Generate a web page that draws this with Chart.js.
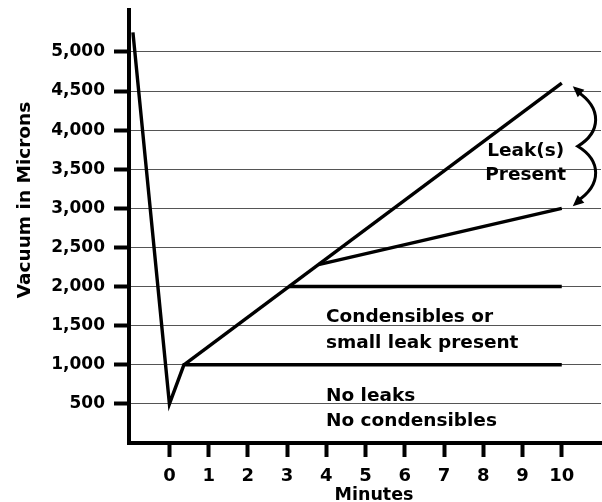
<!DOCTYPE html>
<html><head><meta charset="utf-8">
<script src="https://cdn.jsdelivr.net/npm/chart.js@4/dist/chart.umd.min.js"></script>
<style>html,body{margin:0;padding:0;background:#fff}</style>
</head><body>
<canvas id="c" width="602" height="502" style="display:block;width:602px;height:502px"></canvas>
<script>
// ---- data ----
const xTickValues = [0, 1, 2, 3, 4, 5, 6, 7, 8, 9, 10];
const yTickValues = [500, 1000, 1500, 2000, 2500, 3000, 3500, 4000, 4500, 5000];
const pumpDownX = [-0.93, 0, 0.37, 10];
const pumpDownY = [5250, 500, 1000, 1000];
const leakX = [0.37, 10];
const leakY = [1000, 4600];
const condensX = [3.04, 10];
const condensY = [2000, 2000];
const smallLeakX = [3.8, 10];
const smallLeakY = [2280, 3000];
const xTitle = 'Minutes';
const yTitle = 'Vacuum in Microns';
const notes = [
  {text: 'Condensibles or', x: 3.99, y: 1549, align: 'left'},
  {text: 'small leak present', x: 3.99, y: 1218, align: 'left'},
  {text: 'No leaks', x: 3.99, y: 543, align: 'left'},
  {text: 'No condensibles', x: 3.99, y: 212, align: 'left'},
  {text: 'Leak(s)', x: 9.08, y: 3663, align: 'center'},
  {text: 'Present', x: 9.08, y: 3358, align: 'center'}
];

const FAM = "'DejaVu Sans', sans-serif";
const pts = (xs, ys) => xs.map((x, i) => ({x: x, y: ys[i]}));
const ds = (xs, ys) => ({
  data: pts(xs, ys), showLine: true, borderColor: '#000', borderWidth: 3.4,
  pointRadius: 0, fill: false, borderJoinStyle: 'miter', borderCapStyle: 'butt', tension: 0
});

const annot = {
  id: 'annot',
  afterDraw(chart) {
    const ctx = chart.ctx, xs = chart.scales.x, ys = chart.scales.y;
    ctx.save();
    ctx.fillStyle = '#000';
    ctx.textBaseline = 'alphabetic';
    ctx.font = 'bold 18.5px ' + FAM;
    notes.forEach(n => {
      ctx.textAlign = n.align;
      ctx.fillText(n.text, xs.getPixelForValue(n.x), ys.getPixelForValue(n.y));
    });
    // axis titles
    ctx.font = 'bold 17.5px ' + FAM;
    ctx.textAlign = 'center';
    ctx.fillText(xTitle, 374, 500);
    ctx.save();
    ctx.translate(30, 200);
    ctx.rotate(-Math.PI / 2);
    ctx.font = 'bold 18.5px ' + FAM;
    ctx.fillText(yTitle, 0, 0);
    ctx.restore();
    // curly brace arrow
    const px = xs.getPixelForValue(10);
    const tY = ys.getPixelForValue(leakY[1]);
    const bY = ys.getPixelForValue(smallLeakY[1]);
    const tx = px + 11, ty = tY + 3, by = bY - 2;
    const mY = (ty + by) / 2;
    ctx.strokeStyle = '#000';
    ctx.lineWidth = 3;
    ctx.beginPath();
    ctx.moveTo(tx + 4, ty + 5);
    ctx.bezierCurveTo(tx + 30, ty + 22, tx + 28, mY - 14, tx + 5, mY);
    ctx.bezierCurveTo(tx + 28, mY + 14, tx + 30, by - 22, tx + 4, by - 5);
    ctx.stroke();
    const head = (x, y, dx, dy) => {
      const L = Math.hypot(dx, dy), ux = dx / L, uy = dy / L;
      const len = 11, w = 5;
      ctx.beginPath();
      ctx.moveTo(x, y);
      ctx.lineTo(x - ux * len - uy * w, y - uy * len + ux * w);
      ctx.lineTo(x - ux * len + uy * w, y - uy * len - ux * w);
      ctx.closePath();
      ctx.fill();
    };
    head(tx, ty, -0.75, -0.66);
    head(tx, by, -0.75, 0.66);
    ctx.restore();
  }
};

new Chart(document.getElementById('c'), {
  type: 'scatter',
  data: {datasets: [ds(pumpDownX, pumpDownY), ds(leakX, leakY), ds(condensX, condensY), ds(smallLeakX, smallLeakY)]},
  options: {
    responsive: false, animation: false, devicePixelRatio: 1, locale: 'en-US',
    layout: {padding: {top: 10, right: 1, left: 0, bottom: 0}},
    plugins: {legend: {display: false}, tooltip: {enabled: false}},
    scales: {
      x: {
        type: 'linear', position: 'bottom', min: -1.03, max: 11,
        afterBuildTicks: s => { s.ticks = xTickValues.map(v => ({value: v})); },
        afterFit: s => { s.height = 59; s.paddingLeft = 0; s.paddingRight = 0; },
        grid: {drawOnChartArea: false, drawTicks: true, tickLength: 14, tickWidth: 4, tickColor: '#000'},
        border: {display: true, width: 4, color: '#000'},
        ticks: {color: '#000', font: {family: FAM, weight: 'bold', size: 18}, padding: 9, maxRotation: 0, autoSkip: false}
      },
      y: {
        type: 'linear', position: 'left', min: 0, max: 5536,
        afterBuildTicks: s => { s.ticks = yTickValues.map(v => ({value: v})); },
        afterFit: s => { s.width = 129; s.paddingTop = 0; s.paddingBottom = 0; },
        grid: {color: '#555', lineWidth: 1, drawTicks: true, tickLength: 15, tickWidth: 4, tickColor: '#000'},
        border: {display: true, width: 4, color: '#000'},
        ticks: {color: '#000', font: {family: FAM, weight: 'bold', size: 17}, padding: 9, autoSkip: false}
      }
    }
  },
  plugins: [annot]
});
</script>
</body></html>
